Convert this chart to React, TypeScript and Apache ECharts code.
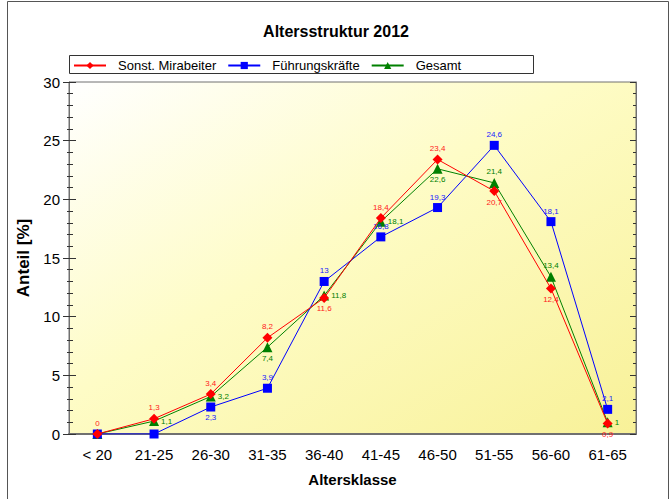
import React, { useEffect, useRef } from "react";
import * as echarts from "echarts";

// Altersklassen (x axis)
const altersklassen = ["< 20", "21-25", "26-30", "31-35", "36-40", "41-45", "46-50", "51-55", "56-60", "61-65"];

// Anteile in Prozent je Gruppe
const sonstigeMitarbeiter = [0, 1.3, 3.4, 8.2, 11.6, 18.4, 23.4, 20.7, 12.4, 0.9];
const fuehrungskraefte = [0, 0, 2.3, 3.9, 13, 16.8, 19.3, 24.6, 18.1, 2.1];
const gesamt = [0, 1.1, 3.2, 7.4, 11.8, 18.1, 22.6, 21.4, 13.4, 1];

// Lage der Wertbeschriftungen (null = keine Beschriftung)
const sonstigeLabelPos = ["top", "top", "top", "top", "bottom", "top", "top", "bottom", "bottom", "bottom"];
const fuehrungLabelPos = [null, null, "bottom", "top", "top", "top", "top", "top", "top", "top"];
const gesamtLabelPos = [null, "right", "right", "bottom", "right", "right", "bottom", "top", "top", "right"];

const FONT = "'Liberation Sans', Arial, sans-serif";

const fmt = (v: number) => String(v).replace(".", ",");

function buildData(values: number[], pos: (string | null)[], color: string) {
  return values.map((v, i) => ({
    value: v,
    label: pos[i]
      ? {
          show: true,
          position: pos[i],
          distance: 2,
          color,
          fontSize: 8,
          fontFamily: FONT,
          formatter: (p: any) => fmt(p.value),
        }
      : { show: false },
  }));
}

export default function App() {
  const ref = useRef<HTMLDivElement>(null);

  useEffect(() => {
    if (!ref.current) return;
    const chart = echarts.init(ref.current, null, { renderer: "svg" });
    const axisGray = "#707070";

    chart.setOption({
      animation: false,
      backgroundColor: "#ffffff",
      title: {
        text: "Altersstruktur 2012",
        left: "center",
        top: 18,
        textStyle: { fontFamily: FONT, fontSize: 16, fontWeight: "bold", color: "#000" },
      },
      graphic: [
        {
          type: "rect",
          shape: { x: 7.5, y: 1.5, width: 661, height: 510 },
          style: { fill: "none", stroke: "#555", lineWidth: 1 },
          silent: true,
        },
        {
          type: "rect",
          shape: { x: 69.5, y: 55.5, width: 464, height: 18 },
          style: { fill: "#fff", stroke: "#333", lineWidth: 1 },
          silent: true,
          z: -1,
        },
      ],
      legend: {
        left: 73,
        top: 59,
        padding: 0,
        itemWidth: 32,
        itemHeight: 9,
        itemGap: 11,
        textStyle: {
          fontFamily: FONT,
          fontSize: 13,
          color: "#000",
          width: 100,
          padding: [0, 0, 0, 7],
        },
        data: ["Sonst. Mirabeiter", "Führungskräfte", "Gesamt"],
      },
      grid: {
        left: 69,
        right: 36,
        top: 82,
        bottom: 65,
        show: true,
        borderColor: axisGray,
        borderWidth: 1,
        backgroundColor: new echarts.graphic.LinearGradient(0, 0, 1, 1, [
          { offset: 0, color: "#ffffff" },
          { offset: 0.45, color: "#fefcc6" },
          { offset: 1, color: "#f8f198" },
        ]),
      },
      xAxis: [
        {
          type: "category",
          data: altersklassen,
          boundaryGap: true,
          name: "Altersklasse",
          nameLocation: "middle",
          nameGap: 38,
          nameTextStyle: { fontFamily: FONT, fontSize: 15, fontWeight: "bold", color: "#000" },
          axisLine: { lineStyle: { color: axisGray, width: 2 } },
          axisTick: { alignWithLabel: true, length: 7, lineStyle: { color: "#444" } },
          axisLabel: { fontFamily: FONT, fontSize: 15, color: "#000", margin: 13 },
          splitLine: { show: false },
        },
        {
          type: "category",
          position: "top",
          data: altersklassen,
          boundaryGap: true,
          axisLine: { lineStyle: { color: axisGray } },
          axisTick: { alignWithLabel: true, inside: true, length: 6, lineStyle: { color: "#444" } },
          axisLabel: { show: false },
          splitLine: { show: false },
        },
      ],
      yAxis: [
        {
          type: "value",
          min: 0,
          max: 30,
          interval: 5,
          name: "Anteil [%]",
          nameLocation: "middle",
          nameGap: 33,
          nameTextStyle: { fontFamily: FONT, fontSize: 17, fontWeight: "bold", color: "#000" },
          axisLine: { show: true, lineStyle: { color: axisGray } },
          axisTick: { show: true, length: 6, lineStyle: { color: "#333" } },
          minorTick: { show: true, splitNumber: 5, length: 2, lineStyle: { color: "#333" } },
          axisLabel: { fontFamily: FONT, fontSize: 15, color: "#000", margin: 9 },
          splitLine: { show: false },
        },
        {
          type: "value",
          position: "left",
          min: 0,
          max: 30,
          interval: 5,
          axisLine: { show: false },
          axisTick: { show: true, inside: true, length: 7, lineStyle: { color: "#333" } },
          minorTick: { show: true, splitNumber: 5, length: 4, lineStyle: { color: "#333" } },
          axisLabel: { show: false },
          splitLine: { show: false },
        },
        {
          type: "value",
          position: "right",
          min: 0,
          max: 30,
          interval: 5,
          axisLine: { show: true, lineStyle: { color: axisGray } },
          axisTick: { show: true, inside: true, length: 6, lineStyle: { color: "#333" } },
          minorTick: { show: true, splitNumber: 5, length: 3, lineStyle: { color: "#333" } },
          axisLabel: { show: false },
          splitLine: { show: false },
        },
      ],
      series: [
        {
          name: "Sonst. Mirabeiter",
          type: "line",
          z: 4,
          symbol: "diamond",
          symbolSize: 10,
          showAllSymbol: true,
          color: "#ff0000",
          lineStyle: { width: 1, color: "#ff0000" },
          itemStyle: { color: "#ff0000" },
          data: buildData(sonstigeMitarbeiter, sonstigeLabelPos, "#ff2020"),
        },
        {
          name: "Führungskräfte",
          type: "line",
          z: 3,
          symbol: "rect",
          symbolSize: 9,
          showAllSymbol: true,
          color: "#0000ff",
          lineStyle: { width: 1, color: "#0000ff" },
          itemStyle: { color: "#0000ff" },
          data: buildData(fuehrungskraefte, fuehrungLabelPos, "#2020ff"),
        },
        {
          name: "Gesamt",
          type: "line",
          z: 2,
          symbol: "triangle",
          symbolSize: 10,
          showAllSymbol: true,
          color: "#008000",
          lineStyle: { width: 1, color: "#008000" },
          itemStyle: { color: "#008000" },
          data: buildData(gesamt, gesamtLabelPos, "#008000"),
        },
      ],
    });

    return () => chart.dispose();
  }, []);

  return (
    <div
      ref={ref}
      style={{ position: "fixed", left: 0, top: 0, width: 672, height: 499 }}
    />
  );
}
